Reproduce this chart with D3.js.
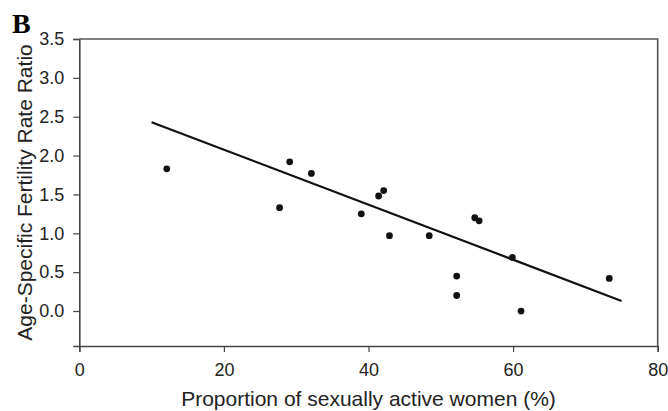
<!DOCTYPE html>
<html>
<head>
<meta charset="utf-8">
<script src="https://cdn.jsdelivr.net/npm/d3@7"></script>
<style>
  html, body { margin: 0; padding: 0; background: #fff; }
  svg { display: block; }
</style>
</head>
<body>
<svg width="668" height="411"></svg>
<script>
/// Data:
var sexuallyActivePct = [12.1, 27.7, 29.1, 32.1, 39.0, 41.4, 42.1, 42.9, 48.4, 52.2, 52.2, 54.7, 55.3, 59.9, 61.1, 73.3];
var fertilityRatio    = [1.83, 1.33, 1.92, 1.77, 1.25, 1.48, 1.55, 0.97, 0.97, 0.45, 0.20, 1.20, 1.16, 0.69, 0.00, 0.42];
// fitted regression line, its two end points
var fitX = [10, 75];
var fitY = [2.43, 0.13];
var xTicks = [0, 20, 40, 60, 80];
var yTicks = [0.0, 0.5, 1.0, 1.5, 2.0, 2.5, 3.0, 3.5];
var panelLabel = "B";
var xTitle = "Proportion of sexually active women (%)";
var yTitle = "Age-Specific Fertility Rate Ratio";

var chart = {};
chart.frame = { left: 79.3, right: 657.7, top: 39, bottom: 346 };
chart.font = "'Liberation Sans', Arial, sans-serif";
chart.ink = "#222";

chart.x = d3.scaleLinear()
  .domain([0, 80])
  .range([chart.frame.left, chart.frame.right]);
chart.y = d3.scaleLinear()
  .domain([-0.45, 3.5])
  .range([chart.frame.bottom, chart.frame.top]);

chart.draw = function() {
  "use strict";
  var svg = d3.select("svg");
  var f = chart.frame;

  // x axis
  svg.append("g")
    .attr("transform", "translate(0," + f.bottom + ")")
    .call(d3.axisBottom(chart.x)
      .tickValues(xTicks)
      .tickSize(6)
      .tickPadding(11)
      .tickFormat(d3.format("d")))
    .call(chart.styleAxis);

  // y axis
  svg.append("g")
    .attr("transform", "translate(" + f.left + ",0)")
    .call(d3.axisLeft(chart.y)
      .tickValues(yTicks)
      .tickSize(6)
      .tickPadding(9)
      .tickFormat(d3.format(".1f")))
    .call(chart.styleAxis);

  // top and right sides of the box
  svg.append("path")
    .attr("d", "M" + f.left + "," + f.top + "H" + f.right + "V" + f.bottom)
    .attr("fill", "none")
    .attr("stroke", "#555")
    .attr("stroke-width", 1.6);

  // regression line
  svg.append("line")
    .attr("x1", chart.x(fitX[0]))
    .attr("y1", chart.y(fitY[0]))
    .attr("x2", chart.x(fitX[1]))
    .attr("y2", chart.y(fitY[1]))
    .attr("stroke", "#111")
    .attr("stroke-width", 2.2);

  svg.append("g")
    .selectAll("circle")
      .data(d3.range(sexuallyActivePct.length))
      .enter()
        .append("circle")
          .attr("cx", function(i) { return chart.x(sexuallyActivePct[i]); })
          .attr("cy", function(i) { return chart.y(fertilityRatio[i]); })
          .attr("r", 3.4)
          .attr("fill", "#111");

  // titles
  svg.append("text")
    .attr("x", (f.left + f.right) / 2)
    .attr("y", 406)
    .attr("text-anchor", "middle")
    .attr("font-family", chart.font)
    .attr("font-size", 21)
    .attr("fill", chart.ink)
    .text(xTitle);

  svg.append("text")
    .attr("transform", "translate(32," + (f.top + f.bottom) / 2 + ") rotate(-90)")
    .attr("text-anchor", "middle")
    .attr("font-family", chart.font)
    .attr("font-size", 21)
    .attr("fill", chart.ink)
    .text(yTitle);

  svg.append("text")
    .attr("x", 12)
    .attr("y", 33)
    .attr("font-family", "'Liberation Serif', 'Times New Roman', serif")
    .attr("font-weight", "bold")
    .attr("font-size", 28)
    .attr("fill", "#000")
    .text(panelLabel);
};

chart.styleAxis = function(g) {
  g.select(".domain").attr("stroke", "#444").attr("stroke-width", 1.6);
  g.selectAll(".tick line").attr("stroke", "#444").attr("stroke-width", 1.2);
  g.selectAll(".tick text")
    .attr("font-family", chart.font)
    .attr("font-size", 18)
    .attr("fill", chart.ink);
};

chart.draw();
</script>
</body>
</html>
